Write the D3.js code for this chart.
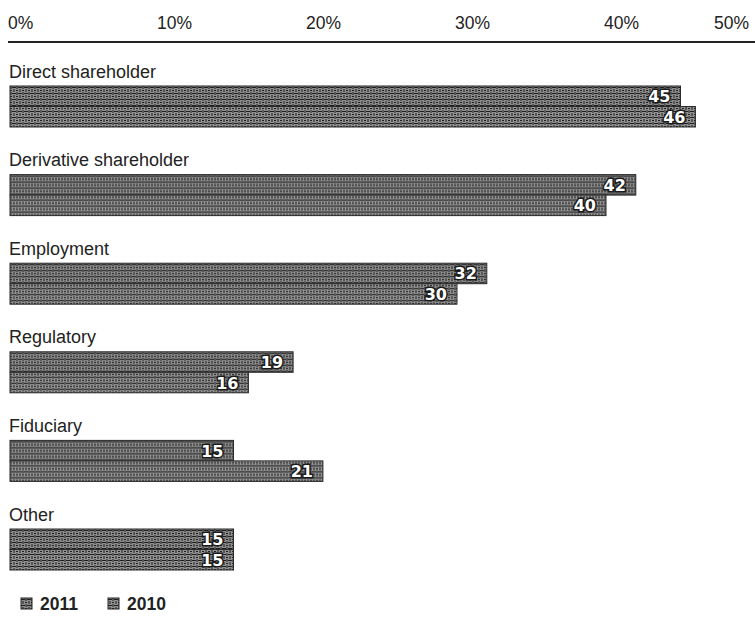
<!DOCTYPE html>
<html>
<head>
<meta charset="utf-8">
<script src="https://cdn.jsdelivr.net/npm/d3@7"></script>
<style>
  html, body { margin: 0; padding: 0; background: #fff; }
  svg { display: block; }
</style>
</head>
<body>
<svg id="chart" width="755" height="623"></svg>
<script>
const categories = ["Direct shareholder", "Derivative shareholder", "Employment", "Regulatory", "Fiduciary", "Other"];
const series = ["2011", "2010"];
const values2011 = [45, 42, 32, 19, 15, 15];
const values2010 = [46, 40, 30, 16, 21, 15];
const tickValues = [0, 10, 20, 30, 40, 50];
const tickLabels = ["0%", "10%", "20%", "30%", "40%", "50%"];

const svg = d3.select("#chart");
const W = 755, H = 623;

const x = d3.scaleLinear().domain([0, 50]).range([10, 755]);
const groupY = d3.scaleBand().domain(categories).range([62, 62 + 88.6 * categories.length]).padding(0);
const barY = d3.scaleBand().domain(series).range([24, 65]).padding(0);

// Patterns
const defs = svg.append("defs");
function makePattern(id, base) {
  const p = defs.append("pattern").attr("id", id).attr("patternUnits", "userSpaceOnUse")
    .attr("width", 6).attr("height", 6);
  p.append("rect").attr("width", 6).attr("height", 6).attr("fill", base);
  p.append("path").attr("d", "M0,1.5H4M2,3V6M4,4.5H6M5,0V3")
    .attr("stroke", "#1e1e1e").attr("stroke-width", 1).attr("fill", "none");
}
makePattern("p2011", "#8c8c8c");
makePattern("p2010", "#929292");

// Axis tick labels
const axisG = svg.append("g");
axisG.selectAll("text").data(tickValues).join("text")
  .attr("x", (d, i) => i === tickValues.length - 1 ? x(d) - 6 : x(d) - 2)
  .attr("y", 29)
  .attr("text-anchor", (d, i) => i === tickValues.length - 1 ? "end" : "start")
  .attr("font-family", "Liberation Sans, Arial, sans-serif")
  .attr("font-size", 17.5)
  .attr("fill", "#222")
  .text((d, i) => tickLabels[i]);

axisG.append("line")
  .attr("x1", x(0) - 2).attr("x2", W)
  .attr("y1", 42).attr("y2", 42)
  .attr("stroke", "#222").attr("stroke-width", 2);

// Groups
const rows = categories.map((c, i) => ({ cat: c, vals: [values2011[i], values2010[i]] }));
const g = svg.selectAll("g.grp").data(rows).join("g")
  .attr("class", "grp")
  .attr("transform", d => `translate(0,${groupY(d.cat)})`);

g.append("text")
  .attr("x", 9).attr("y", 15.5)
  .attr("font-family", "Liberation Sans, Arial, sans-serif")
  .attr("font-size", 18)
  .attr("fill", "#222")
  .text(d => d.cat);

const bars = g.selectAll("g.bar").data(d => d.vals.map((v, j) => ({ s: series[j], v })))
  .join("g").attr("class", "bar");

bars.append("rect")
  .attr("x", x(0))
  .attr("y", d => barY(d.s))
  .attr("width", d => x(d.v) - x(0))
  .attr("height", barY.bandwidth())
  .attr("fill", d => d.s === "2011" ? "url(#p2011)" : "url(#p2010)")
  .attr("stroke", "#2a2a2a").attr("stroke-width", 1);

bars.append("text")
  .attr("x", d => x(d.v) - 10)
  .attr("y", d => barY(d.s) + barY.bandwidth() / 2 + 6)
  .attr("text-anchor", "end")
  .attr("font-family", "DejaVu Sans, sans-serif")
  .attr("font-weight", "bold")
  .attr("font-size", 16)
  .attr("fill", "#fff")
  .attr("stroke", "#1a1a1a").attr("stroke-width", 3)
  .attr("paint-order", "stroke")
  .text(d => d.v);

// Legend
const legend = svg.append("g").attr("transform", "translate(0,604)");
const lg = legend.selectAll("g").data(series).join("g")
  .attr("transform", (d, i) => `translate(${21 + i * 87},0)`);
lg.append("rect").attr("x", 0).attr("y", -6).attr("width", 11).attr("height", 11)
  .attr("fill", d => d === "2011" ? "url(#p2011)" : "url(#p2010)")
  .attr("stroke", "#222").attr("stroke-width", 1);
lg.append("text").attr("x", 19).attr("y", 6)
  .attr("font-family", "Liberation Sans, Arial, sans-serif")
  .attr("font-size", 17.5).attr("font-weight", "bold")
  .attr("fill", "#222")
  .text(d => d);
</script>
</body>
</html>
